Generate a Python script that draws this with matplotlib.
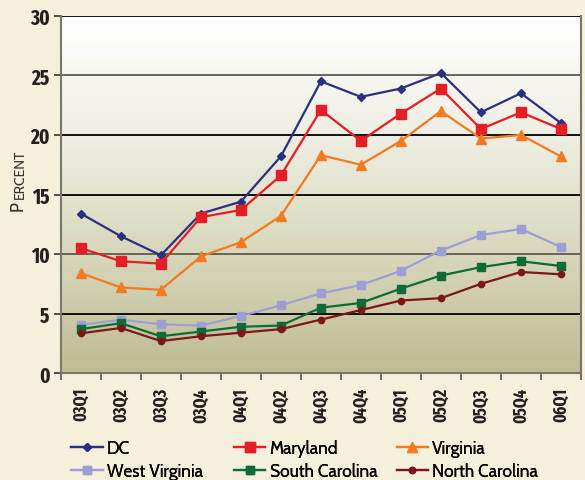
import numpy as np
import matplotlib
matplotlib.use('Agg')
import matplotlib.pyplot as plt
from matplotlib import font_manager
from matplotlib.colors import LinearSegmentedColormap

quarters = ['03Q1', '03Q2', '03Q3', '03Q4', '04Q1', '04Q2', '04Q3',
            '04Q4', '05Q1', '05Q2', '05Q3', '05Q4', '06Q1']

dc = [13.4, 11.5, 9.9, 13.4, 14.4, 18.2, 24.5, 23.2, 23.9, 25.2, 21.9, 23.5, 21.0]
maryland = [10.5, 9.4, 9.2, 13.1, 13.7, 16.6, 22.1, 19.5, 21.8, 23.9, 20.5, 21.9, 20.5]
virginia = [8.4, 7.2, 7.0, 9.8, 11.0, 13.2, 18.3, 17.5, 19.5, 22.0, 19.7, 20.0, 18.2]
west_virginia = [4.05, 4.5, 4.1, 4.0, 4.8, 5.7, 6.7, 7.4, 8.6, 10.3, 11.6, 12.1, 10.6]
south_carolina = [3.7, 4.2, 3.1, 3.5, 3.9, 4.0, 5.5, 5.9, 7.1, 8.2, 8.9, 9.4, 9.0]
north_carolina = [3.35, 3.8, 2.7, 3.1, 3.4, 3.7, 4.5, 5.3, 6.1, 6.3, 7.5, 8.5, 8.3]

yticks = [0, 5, 10, 15, 20, 25, 30]

installed = set(f.name for f in font_manager.fontManager.ttflist)


def pick(cands):
    for c in cands:
        if c in installed:
            return c
    return 'DejaVu Sans'


narrow = pick(['Fira Sans Extra Condensed', 'Roboto Condensed', 'PT Sans Narrow',
               'Archivo Narrow', 'Barlow Condensed', 'Liberation Sans Narrow'])
humanist = pick(['Gill Sans', 'Cabin', 'Lato', 'Open Sans'])

bg = '#F5F0DC'

fig = plt.figure(figsize=(5.85, 4.81), dpi=100, facecolor=bg)
ax = fig.add_axes([0.104, 0.222, 0.889, 0.743])

x = np.arange(len(quarters))
ax.set_xlim(-0.5, len(quarters) - 0.5)
ax.set_ylim(0, 30)

# gradient fill of plot area
cmap = LinearSegmentedColormap.from_list('bg', ['#BEBC93', '#D8D7BC', '#EFEEE3', '#FFFFFF'])
grad = np.linspace(0, 1, 256).reshape(-1, 1)
ax.imshow(grad, aspect='auto', cmap=cmap, origin='lower',
          extent=[-0.5, len(quarters) - 0.5, 0, 30], zorder=0)

for v in yticks[1:]:
    c = '#5A5A50' if v in (10, 25) else 'black'
    ax.axhline(v, color=c, lw=1.3, zorder=1)

series = [
    ('DC', dc, '#2B2F7F', 'D', 4.5),
    ('Maryland', maryland, '#E31E24', 's', 6.5),
    ('Virginia', virginia, '#F47A20', '^', 6.5),
    ('West Virginia', west_virginia, '#9E9ED6', 's', 6),
    ('South Carolina', south_carolina, '#0E6B38', 's', 6),
    ('North Carolina', north_carolina, '#7E1518', 'o', 4.5),
]
handles = {}
for name, vals, col, mk, ms in series:
    h, = ax.plot(x, vals, color=col, marker=mk, markersize=ms, lw=1.6,
                 label=name, zorder=3)
    handles[name] = h

for s in ['left', 'bottom', 'right']:
    ax.spines[s].set_color('#77776A')
    ax.spines[s].set_linewidth(1.5)
ax.spines['top'].set_visible(False)

ax.set_yticks(yticks)
ax.set_yticklabels([str(v) for v in yticks], fontsize=15, fontweight='bold',
                   family=narrow, color='#231F20')
ax.tick_params(axis='y', length=5, width=1.2, color='#333333', pad=3)

ax.set_xticks(x)
ax.set_xticklabels(quarters, rotation=90, fontsize=12.5, fontweight='bold',
                   family=narrow, color='#231F20')
ax.tick_params(axis='x', which='major', length=0, pad=10)
ax.set_xticks(np.arange(-0.5, len(quarters)), minor=True)
ax.tick_params(axis='x', which='minor', length=5, width=1.2, color='#555555')

# small-caps style axis title
fig.text(0.046, 0.561, 'P', rotation=90, fontsize=12.5, color='#333333',
         ha='right', va='bottom', family=humanist)
fig.text(0.046, 0.586, 'ERCENT', rotation=90, fontsize=10, color='#333333',
         ha='right', va='bottom', family=humanist)

# legend: three columns placed individually
columns = [['DC', 'West Virginia'], ['Maryland', 'South Carolina'],
           ['Virginia', 'North Carolina']]
col_x = [0.122, 0.400, 0.678]
for names, cx in zip(columns, col_x):
    leg = fig.legend([handles[n] for n in names], names, loc='upper left',
                     bbox_to_anchor=(cx, 0.086), frameon=False,
                     prop={'family': humanist, 'size': 12.5}, handlelength=1.8,
                     handletextpad=0.25, labelspacing=0.3, borderpad=0,
                     borderaxespad=0)
    fig.add_artist(leg)

fig.savefig('out.png', dpi=100, facecolor=bg)
